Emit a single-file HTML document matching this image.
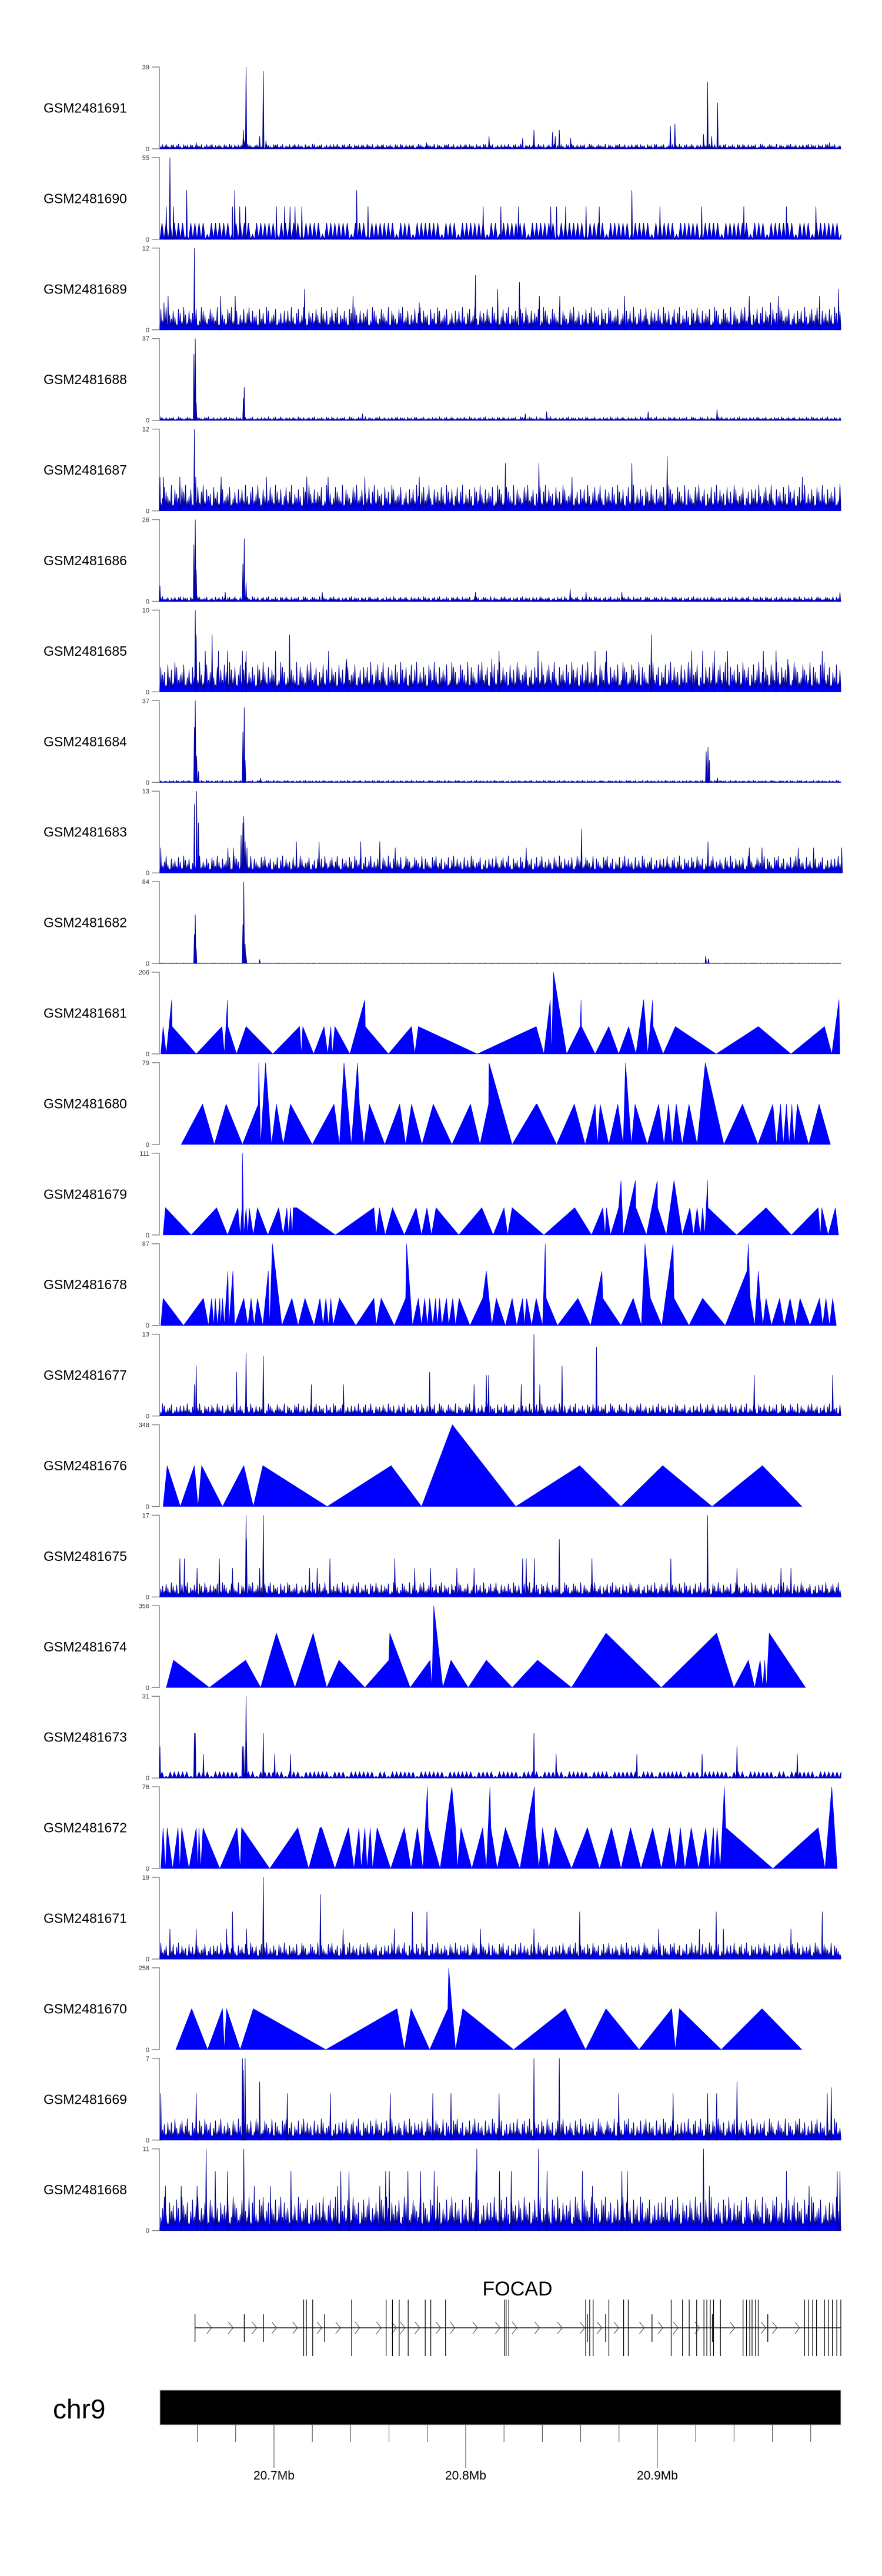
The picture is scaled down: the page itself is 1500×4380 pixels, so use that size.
<!DOCTYPE html>
<html><head><meta charset="utf-8">
<style>
html,body{margin:0;padding:0;background:#fff;}
svg{display:block;font-family:"Liberation Sans",Arial,sans-serif;}
</style></head>
<body>
<svg id="chart" width="1500" height="4380" viewBox="0 0 1500 4380" xmlns="http://www.w3.org/2000/svg"></svg>
<script>
// ---- data ----
const sampleNames = ["GSM2481691","GSM2481690","GSM2481689","GSM2481688","GSM2481687","GSM2481686","GSM2481685","GSM2481684","GSM2481683","GSM2481682","GSM2481681","GSM2481680","GSM2481679","GSM2481678","GSM2481677","GSM2481676","GSM2481675","GSM2481674","GSM2481673","GSM2481672","GSM2481671","GSM2481670","GSM2481669","GSM2481668"];
const yMax = [39,55,12,37,12,26,10,37,13,84,206,79,111,87,13,348,17,356,31,76,19,258,7,11];
const trackKind = ["dense","tri","dense","dense","dense","dense","dense","dense","dense","dense","peaks","peaks","peaks","peaks","dense","peaks","dense","peaks","tri","peaks","dense","peaks","dense","dense"];
const baseLevel = [1.5,11,2.2,1,2.5,1,2.4,0.6,1.8,0.4,0,0,0,0,1.3,0,2,0,2.3,0,2.5,0,1.2,3];
// dense-track spikes: [position, value]
const spikes691 = [[108,3],[212,9],[215,4],[218,39],[248,6],[256,37],[262,4],[616,3],[754,6],[828,5],[853,9],[894,8],[900,6],[909,9],[934,5],[1154,11],[1164,12],[1227,7],[1236,32],[1245,6],[1258,22],[1505,3]];
const spikes690 = [[50,55],[42,22],[58,22],[87,33],[188,22],[193,33],[204,22],[217,22],[285,22],[303,22],[315,22],[326,22],[341,22],[462,33],[487,22],[741,22],[780,22],[819,22],[890,22],[903,22],[923,22],[968,22],[997,22],[1069,33],[1131,22],[1223,22],[1316,22],[1410,22],[1475,22]];
const spikes689 = [[104,12],[46,5],[162,5],[194,5],[347,6],[454,5],[724,8],[773,6],[821,7],[865,5],[910,5],[1053,5],[1328,5],[1392,5],[1483,5],[1525,6],[1375,4],[37,4],[600,4]];
const spikes688 = [[106,37],[103,30],[108,8],[214,15],[212,10],[475,3],[834,3],[881,4],[1105,4],[1257,5]];
const spikes687 = [[104,12],[107,5],[28,5],[36,5],[72,5],[163,5],[263,5],[352,5],[399,5],[480,5],[600,5],[790,7],[864,7],[937,5],[1069,7],[1147,8],[1445,5],[1528,4]];
const spikes686 = [[106,26],[103,18],[108,10],[214,20],[211,12],[218,6],[28,5],[172,3],[386,3],[724,3],[933,4],[968,3],[1047,3],[1528,3]];
const spikes685 = [[106,10],[108,7],[143,7],[314,7],[1112,7],[128,5],[157,5],[177,5],[210,5],[218,5],[283,5],[400,5],[776,5],[862,5],[988,5],[1013,5],[1201,5],[1225,5],[1251,5],[1280,5],[1359,5],[1387,5],[1489,5],[1413,4],[760,4],[440,4]];
const spikes684 = [[106,37],[104,25],[109,12],[113,5],[214,34],[211,23],[216,10],[250,2],[1237,16],[1233,14],[1240,10],[1258,2]];
const spikes683 = [[104,11],[109,13],[113,8],[207,6],[213,9],[211,8],[216,5],[220,4],[30,4],[329,5],[379,5],[471,5],[513,5],[547,4],[836,4],[958,7],[1237,5],[1328,4],[1356,4],[1436,4],[1470,4],[1532,4],[178,4],[190,4]];
const spikes682 = [[106,50],[104,30],[108,15],[213,84],[211,40],[216,20],[218,8],[1232,8],[1238,5],[248,4]];
const spikes677 = [[108,8],[104,5],[197,7],[218,10],[256,9.5],[362,5],[433,5],[623,7],[721,5],[748,6.5],[753,6.5],[825,5],[853,13],[866,5],[915,8],[991,11],[1339,6.5],[1512,6.5]];
const spikes675 = [[218,17],[256,17],[1236,17],[219,12],[909,12],[72,8],[82,8],[159,8],[403,8],[546,8],[828,8],[836,8],[854,8],[981,8],[1155,8],[110,6],[188,6],[248,6],[358,6],[375,6],[590,6],[625,6],[683,6],[721,6],[1301,6],[1398,6],[1420,6]];
const spikes673 = [[104,17],[106,17],[210,12],[213,12],[218,31],[219,14],[256,17],[28,12],[124,9],[281,9],[316,9],[853,17],[1301,12],[902,9],[1080,9],[1224,9],[1434,9]];
const spikes671 = [[256,19],[382,15],[188,11],[585,11],[617,11],[954,11],[1255,11],[1489,11],[50,7],[108,7],[175,7],[219,7],[432,7],[545,7],[735,7],[853,7],[1128,7],[1218,7],[1271,7],[1420,7]];
const spikes669 = [[210,7],[216,7],[212,6],[853,7],[909,7],[248,5],[1301,5],[1509,4.5],[30,4],[108,4],[536,4],[630,4],[670,4],[776,4],[1040,4],[1160,4],[1236,4],[1256,4],[1500,4],[404,4],[309,4]];
const spikes668 = [[130,11],[213,11],[727,11],[863,11],[1227,11],[150,8],[177,8],[317,8],[427,8],[445,8],[526,8],[534,8],[575,8],[603,8],[633,8],[725,8],[777,8],[803,8],[882,8],[960,8],[1047,8],[1059,8],[1410,8],[1522,8],[1528,8],[40,6],[75,6],[110,6],[236,6],[272,6],[420,6],[513,6],[640,6],[982,6],[1240,6],[1460,6]];
// peak-track series: [position, value]
const series681 = [[30,0],[35,69],[42,0],[48,69],[54,137],[55,69],[108,0],[165,69],[170,0],[177,137],[178,69],[197,0],[218,69],[277,0],[336,69],[340,0],[343,69],[367,0],[390,69],[398,0],[405,69],[408,0],[414,69],[447,0],[480,137],[481,69],[532,0],[583,69],[590,0],[598,69],[728,0],[858,69],[875,0],[889,137],[892,0],[896,206],[925,0],[955,69],[957,137],[958,69],[988,0],[1018,69],[1040,0],[1062,69],[1078,0],[1095,137],[1104,0],[1115,137],[1116,69],[1138,0],[1165,69],[1255,0],[1348,69],[1420,0],[1494,69],[1510,0],[1526,137],[1528,0]];
const series680 = [[75,0],[122,39],[148,0],[174,39],[210,0],[245,39],[246,79],[250,0],[261,79],[274,0],[285,39],[300,0],[316,39],[364,0],[412,39],[424,0],[434,79],[450,0],[464,79],[468,39],[478,0],[490,39],[524,0],[557,39],[570,0],[583,39],[606,0],[631,39],[672,0],[713,39],[734,0],[753,39],[754,79],[805,0],[858,39],[860,39],[903,0],[942,39],[966,0],[988,39],[993,0],[999,39],[1018,0],[1038,39],[1050,0],[1055,79],[1068,0],[1076,39],[1103,0],[1128,39],[1140,0],[1150,39],[1158,0],[1167,39],[1180,0],[1195,39],[1213,0],[1231,79],[1272,0],[1313,39],[1347,0],[1380,39],[1388,0],[1397,39],[1403,0],[1410,39],[1416,0],[1422,39],[1427,0],[1434,39],[1459,0],[1482,39],[1507,0]];
const series679 = [[35,0],[40,37],[97,0],[153,37],[177,0],[200,37],[205,0],[209,37],[210,111],[213,0],[218,37],[222,0],[225,37],[234,0],[243,37],[266,0],[290,37],[300,0],[308,37],[312,0],[316,37],[320,0],[322,37],[330,37],[415,0],[500,37],[505,0],[512,37],[525,0],[541,37],[567,0],[593,37],[605,0],[617,37],[627,0],[637,37],[687,0],[738,37],[763,0],[787,37],[795,0],[805,37],[875,0],[943,37],[980,0],[1005,37],[1010,0],[1013,37],[1022,0],[1040,37],[1045,74],[1050,0],[1077,74],[1078,37],[1101,0],[1125,74],[1126,37],[1145,0],[1162,74],[1180,0],[1197,37],[1205,0],[1213,37],[1220,0],[1225,37],[1230,0],[1236,74],[1237,37],[1300,0],[1365,37],[1421,0],[1480,37],[1485,0],[1488,37],[1502,0],[1518,37],[1525,0]];
const series678 = [[30,0],[35,29],[80,0],[124,29],[135,0],[142,29],[147,0],[150,29],[155,0],[160,29],[162,0],[166,29],[170,0],[178,58],[180,0],[189,58],[193,0],[213,29],[222,0],[229,29],[236,0],[243,29],[255,0],[267,58],[270,0],[276,87],[297,0],[319,29],[333,0],[348,29],[368,0],[381,29],[388,0],[394,29],[400,0],[405,29],[410,0],[424,29],[460,0],[500,29],[505,0],[516,29],[545,0],[570,29],[572,87],[585,0],[598,29],[605,0],[612,29],[618,0],[623,29],[630,0],[636,29],[640,0],[645,29],[650,0],[660,29],[665,0],[674,29],[680,0],[688,29],[712,0],[740,29],[748,58],[760,0],[770,29],[790,0],[805,29],[815,0],[828,29],[832,0],[837,29],[848,0],[858,29],[872,0],[878,87],[880,29],[905,0],[950,29],[978,0],[1003,58],[1005,29],[1045,0],[1072,29],[1090,0],[1098,87],[1110,29],[1135,0],[1160,87],[1162,29],[1195,0],[1225,29],[1275,0],[1323,58],[1326,87],[1330,29],[1340,0],[1348,58],[1352,29],[1358,0],[1365,29],[1377,0],[1395,29],[1405,0],[1418,29],[1430,0],[1440,29],[1462,0],[1483,29],[1490,0],[1497,29],[1505,0],[1512,29],[1520,0]];
const series676 = [[35,0],[44,174],[73,0],[104,174],[112,0],[120,174],[166,0],[213,174],[234,0],[255,174],[397,0],[538,174],[605,0],[673,348],[813,0],[954,174],[1045,0],[1137,174],[1246,0],[1357,174],[1444,0]];
const series674 = [[42,0],[58,119],[137,0],[217,119],[250,0],[285,237],[326,0],[366,237],[396,0],[423,119],[480,0],[533,119],[535,237],[580,0],[624,119],[628,0],[632,356],[652,0],[670,119],[708,0],[748,119],[805,0],[861,119],[936,0],[1012,237],[1134,0],[1256,237],[1294,0],[1326,119],[1340,0],[1352,119],[1358,0],[1362,119],[1366,0],[1372,237],[1452,0]];
const series672 = [[30,0],[35,38],[40,0],[44,38],[56,0],[68,38],[72,0],[76,38],[92,0],[108,38],[112,0],[114,38],[118,0],[123,38],[160,0],[198,38],[205,0],[208,38],[270,0],[332,38],[356,0],[381,38],[385,38],[414,0],[444,38],[456,0],[467,38],[472,0],[480,38],[485,0],[492,38],[497,0],[507,38],[537,0],[567,38],[582,0],[596,38],[608,0],[618,76],[620,38],[646,0],[672,76],[680,38],[684,0],[692,38],[716,0],[740,38],[748,0],[756,76],[758,38],[772,0],[790,38],[822,0],[854,76],[856,38],[864,0],[872,38],[886,0],[900,38],[936,0],[971,38],[998,0],[1024,38],[1045,0],[1066,38],[1089,0],[1115,38],[1134,0],[1152,38],[1166,0],[1176,38],[1186,0],[1200,38],[1216,0],[1232,38],[1240,0],[1249,38],[1252,0],[1257,38],[1264,0],[1273,76],[1276,38],[1380,0],[1480,38],[1495,0],[1510,76],[1522,0]];
const series670 = [[63,0],[98,129],[133,0],[166,129],[170,0],[175,129],[205,0],[234,129],[394,0],[551,129],[567,0],[582,129],[623,0],[663,129],[665,258],[680,0],[696,129],[808,0],[922,129],[967,0],[1012,129],[1085,0],[1157,129],[1165,0],[1174,129],[1266,0],[1356,129],[1444,0]];
const trackData = [spikes691,spikes690,spikes689,spikes688,spikes687,spikes686,spikes685,spikes684,spikes683,spikes682,series681,series680,series679,series678,spikes677,series676,spikes675,series674,spikes673,series672,spikes671,series670,spikes669,spikes668];
// gene model (position in Mb)
const exonsSmall = [20.6588,20.6845,20.6945,20.7264,20.8635,20.8730,20.8972,20.9576,20.9287];
const exonsTall = [20.7155,20.7169,20.7202,20.7405,20.7585,20.7618,20.7653,20.7700,20.7789,20.7818,20.7895,20.8202,20.8211,20.8225,20.8626,20.8647,20.8665,20.8747,20.8824,20.8848,20.9072,20.9131,20.9166,20.9205,20.9243,20.9258,20.9276,20.9293,20.9329,20.9447,20.9465,20.9482,20.9494,20.9512,20.9526,20.9768,20.9789,20.9810,20.9830,20.9872,20.9892,20.9913,20.9936,20.9957];
const geneArrows = [20.6662,20.6774,20.6898,20.7001,20.7110,20.7237,20.7334,20.7435,20.7547,20.7626,20.7671,20.7748,20.7857,20.7931,20.8049,20.8167,20.8255,20.8373,20.8491,20.8609,20.8698,20.8786,20.8919,20.9016,20.9096,20.9208,20.9391,20.9553,20.9612,20.9730];
const majorTicks = [20.7,20.8,20.9];
const tickLabels = ["20.7Mb","20.8Mb","20.9Mb"];
const minorTicks = [20.66,20.68,20.70,20.72,20.74,20.76,20.78,20.80,20.82,20.84,20.86,20.88,20.90,20.92,20.94,20.96,20.98];
// rendering texture (visual only)
const TEXTURE = [3,7,2,9,4,1,6,8,2,5,9,3,0,7,4,6,2,8,5,1,9,6,3,7,0,4,8,2,6,9,1,5,3,7,4,0,8,6,2,9,5,1,7,3,6,4,8,0,2,9,7,5,1,3,8,6,4,2,9,0,7,5,3,1,8,6,9,2,4,7,0,5,3,8,1,6,9,2,7,4,5,0,8,3,6,1,9,7,2,4,5,8,0,3,6,1,7];

// ---- layout ----
const NS = "http://www.w3.org/2000/svg";
const svg = document.getElementById("chart");
const X0 = 272, X1 = 1430, P0 = 28, P1 = 1530;
const xScale = p => X0 + (p - P0) / (P1 - P0) * (X1 - X0);
const G0 = 20.6405, G1 = 20.9951;
const gScale = g => 272 + (g - G0) / (G1 - G0) * (1428 - 272);
const ZERO0 = 253, PITCH = 153.9, H = 139;
function mk(tag, attrs, parent) { const e = document.createElementNS(NS, tag); for (const k in attrs) e.setAttribute(k, attrs[k]); (parent || svg).appendChild(e); return e; }

sampleNames.forEach((name, i) => {
  const zero = ZERO0 + i * PITCH, top = zero - H;
  const yS = v => zero - v / yMax[i] * H;
  const g = mk("g", {});
  
  
  const lab = mk("text", {x: 74, y: zero - H / 2 + 8, "font-size": 23, fill: "#000"}, g);
  lab.textContent = name;
  
  
  const ax = mk("path", {d: `M258 ${top}H271V${zero}H258`, stroke: "#888", "stroke-width": 1.5, fill: "none"}, g);
  
  
  const tMax = mk("text", {x: 254, y: top + 4, "font-size": 11, fill: "#333", "text-anchor": "end"}, g);
  tMax.textContent = String(yMax[i]);
  
  
  const t0 = mk("text", {x: 254, y: zero + 4, "font-size": 11, fill: "#333", "text-anchor": "end"}, g);
  t0.textContent = "0";
  
  

  const kind = trackKind[i], data = trackData[i];
  if (kind === "peaks") {
    let d = `M${xScale(data[0][0]).toFixed(1)} ${zero}`;
    data.forEach(pt => { d += `L${xScale(pt[0]).toFixed(1)} ${yS(pt[1]).toFixed(1)}`; });
    d += `L${xScale(data[data.length-1][0]).toFixed(1)} ${zero}Z`;
    const a = mk("path", {d, fill: "#0000ff", stroke: "#0000ff", "stroke-width": 0.6}, g);
    
    
  } else {
    const tri = kind === "tri";
    const bw = tri ? 7 : 3;
    let d = `M${X0} ${zero}`;
    let k = i * 13;
    for (let x = X0; x < X1; x += bw) {
      const t = TEXTURE[k++ % TEXTURE.length];
      const h = tri ? (t > 1 ? baseLevel[i] : baseLevel[i] * 0.3) : baseLevel[i] * (0.35 + 0.13 * t);
      d += `L${(x + bw / 2).toFixed(1)} ${yS(Math.min(h, yMax[i])).toFixed(1)}L${Math.min(x + bw, X1).toFixed(1)} ${tri ? zero : yS(baseLevel[i] * 0.2).toFixed(1)}`;
    }
    d += `L${X1} ${zero}Z`;
    const band = mk("path", {d, fill: "#0000ff", stroke: "#000090", "stroke-width": 0.9}, g);
    
    
    data.forEach(pt => {
      const x = xScale(pt[0]);
      const s = mk("path", {d: `M${(x-1.2).toFixed(1)} ${zero}L${x.toFixed(1)} ${yS(pt[1]).toFixed(1)}L${(x+1.2).toFixed(1)} ${zero}Z`, fill: "#0000ee", stroke: "#000090", "stroke-width": 0.9}, g);
      
      
    });
  }
});

// gene track
const gg = mk("g", {});


const gname = mk("text", {x: 880, y: 3903, "font-size": 34, "text-anchor": "middle", fill: "#000"}, gg);
gname.textContent = "FOCAD";


const gl = mk("line", {x1: gScale(exonsSmall[0]), x2: gScale(exonsTall[exonsTall.length-1]), y1: 3958, y2: 3958, stroke: "#222", "stroke-width": 1.5}, gg);


geneArrows.forEach(a => {
  const x = gScale(a);
  const ar = mk("path", {d: `M${x-4} 3948L${x+4} 3958L${x-4} 3968`, stroke: "#333", "stroke-width": 1, fill: "none"}, gg);
  
  
});
exonsSmall.forEach(e => {
  const x = gScale(e);
  const l = mk("line", {x1: x, x2: x, y1: 3935, y2: 3982, stroke: "#000", "stroke-width": 1.3}, gg);
  
  
});
exonsTall.forEach(e => {
  const x = gScale(e);
  const l = mk("line", {x1: x, x2: x, y1: 3910, y2: 4006, stroke: "#000", "stroke-width": 1.2}, gg);
  
  
});

// chromosome axis
const cg = mk("g", {});


const chr = mk("text", {x: 90, y: 4112, "font-size": 46, fill: "#000"}, cg);
chr.textContent = "chr9";


const bar = mk("rect", {x: 272, y: 4064, width: 1158, height: 59, fill: "#000", stroke: "#bbb", "stroke-width": 1}, cg);


minorTicks.forEach(t => {
  const x = gScale(t);
  const l = mk("line", {x1: x, x2: x, y1: 4123, y2: 4152, stroke: "#444", "stroke-width": 1}, cg);
  
  
});
majorTicks.forEach((t, j) => {
  const x = gScale(t);
  const l = mk("line", {x1: x, x2: x, y1: 4123, y2: 4196, stroke: "#444", "stroke-width": 1}, cg);
  
  
  const tx = mk("text", {x, y: 4216, "font-size": 21, "text-anchor": "middle", fill: "#000"}, cg);
  tx.textContent = tickLabels[j];
  
  
});
</script>
</body></html>
